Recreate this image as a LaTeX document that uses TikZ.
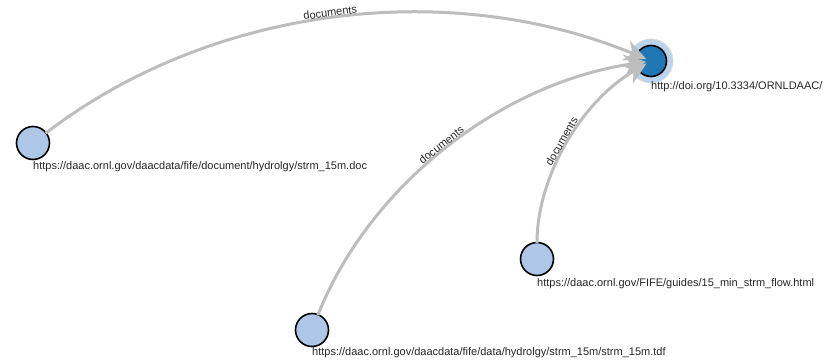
\documentclass[tikz,border=0pt]{standalone}
\usepackage{fontspec}
\setmainfont{Liberation Sans}
\usetikzlibrary{arrows.meta}
\definecolor{srcblue}{HTML}{AEC7E8}
\definecolor{tgtblue}{HTML}{1F77B4}
\definecolor{haloblue}{HTML}{BAD4EE}
\definecolor{linkgray}{HTML}{BDBDBD}

\begin{document}
\begin{tikzpicture}[
  x=1pt, y=1pt,
  src/.style={circle, draw=black, line width=1.6pt, fill=srcblue,
              minimum size=33pt, inner sep=0pt},
  tgt/.style={circle, draw=black, line width=1.6pt, fill=tgtblue,
              minimum size=31pt, inner sep=0pt},
  halo/.style={circle, fill=haloblue, draw=gray!30, line width=0.8pt,
               minimum size=44pt, inner sep=0pt},
  url/.style={anchor=west, inner sep=0pt, text=black!85,
              font=\fontsize{11pt}{13pt}\selectfont},
  lbl/.style={midway, sloped, above, inner sep=1.5pt, text=black!85,
              font=\fontsize{11pt}{13pt}\selectfont},
  link/.style={draw=linkgray, line width=3pt, shorten <=16pt, shorten >=5pt,
               bend left=30, looseness=0.91,
               -{Stealth[length=22pt, width=21pt, inset=7pt]}}
]
  \useasboundingbox (0,0) rectangle (825,-361);

  \node[halo] (tgthalo) at (651,-61) {};
  \node[tgt]  (target)  at (651,-61) {};
  \node[src]  (srcdoc)  at (33,-143) {};
  \node[src]  (srctdf)  at (312,-330) {};
  \node[src]  (srchtml) at (537,-259) {};

  \node[url] (targetlbl)  at ([yshift=-26pt]target.center)  {http://doi.org/10.3334/ORNLDAAC/};
  \node[url] (srcdoclbl)  at ([yshift=-24pt]srcdoc.center)  {https://daac.ornl.gov/daacdata/fife/document/hydrolgy/strm\_15m.doc};
  \node[url] (srctdflbl)  at ([yshift=-23pt]srctdf.center)  {https://daac.ornl.gov/daacdata/fife/data/hydrolgy/strm\_15m/strm\_15m.tdf};
  \node[url] (srchtmllbl) at ([yshift=-25pt]srchtml.center) {https://daac.ornl.gov/FIFE/guides/15\_min\_strm\_flow.html};

  \draw[link] (srcdoc.center)  to node[lbl] {documents} (target.center);
  \draw[link] (srctdf.center)  to node[lbl] {documents} (target.center);
  \draw[link] (srchtml.center) to node[lbl] {documents} (target.center);
\end{tikzpicture}
\end{document}
